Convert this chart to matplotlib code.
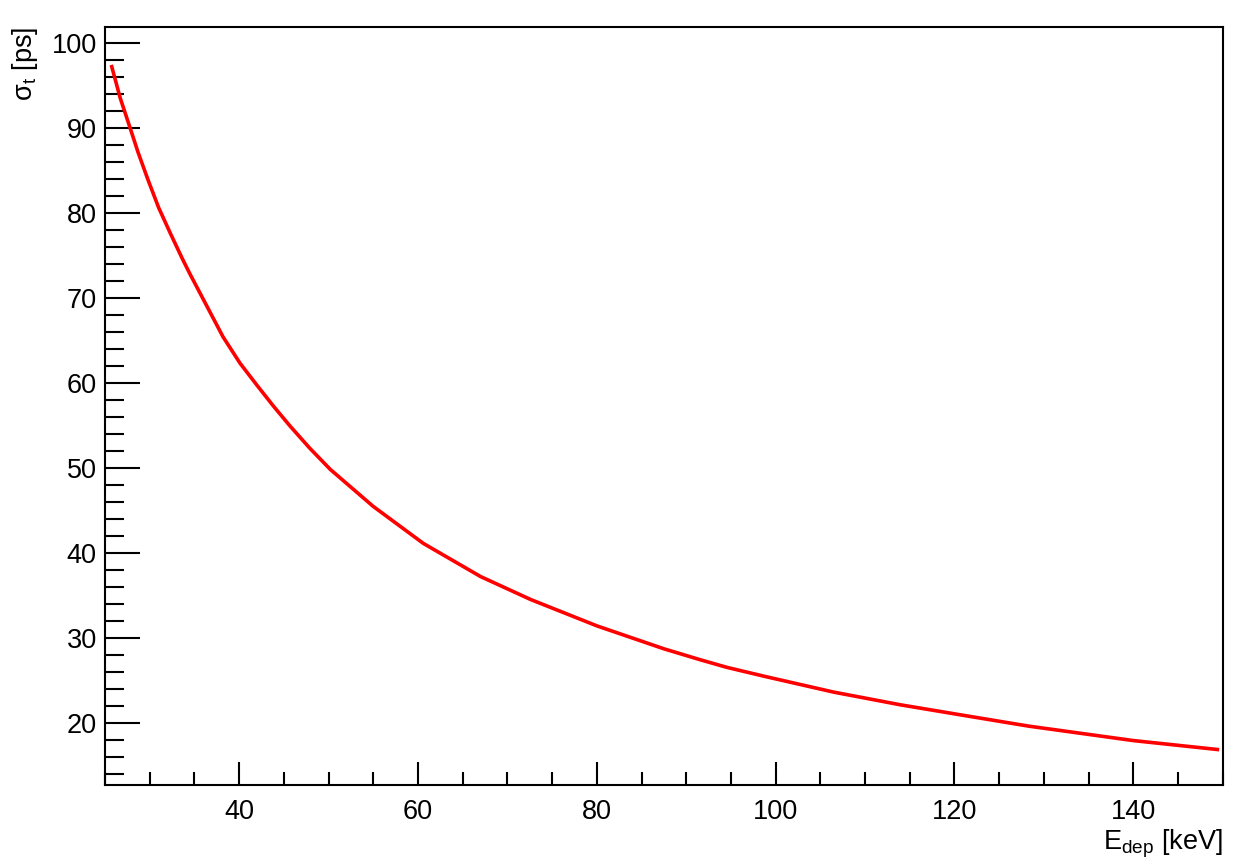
import matplotlib.pyplot as plt
from matplotlib.ticker import MultipleLocator

# values
e_dep = [25.75, 26.7, 27.8, 28.7, 29.8, 31.0, 32.3, 33.6, 34.5, 36.0, 38.2, 40.1,
         42.0, 43.8, 45.7, 47.9, 50.2, 55.0, 60.6, 67.0, 72.6, 80.0, 87.5, 91.6,
         94.6, 99.0, 106.5, 114.0, 121.4, 128.3, 140.0, 149.4]
sigma_t = [97.2, 93.5, 90.0, 87.1, 83.9, 80.6, 77.6, 74.7, 72.8, 69.8, 65.4, 62.3,
           59.7, 57.3, 54.9, 52.3, 49.8, 45.45, 41.1, 37.2, 34.5, 31.4, 28.7, 27.4,
           26.5, 25.4, 23.6, 22.1, 20.8, 19.6, 17.9, 16.85]

plt.rcParams['font.family'] = ['Liberation Sans', 'DejaVu Sans']
plt.rcParams['mathtext.fontset'] = 'custom'
plt.rcParams['mathtext.rm'] = 'Liberation Sans'
plt.rcParams['mathtext.it'] = 'Liberation Sans:italic'

fig = plt.figure(figsize=(12.52, 8.68), dpi=100)
ax = fig.add_axes([0.0839, 0.0956, 0.8927, 0.8736])

ax.plot(e_dep, sigma_t, color='red', lw=2.6, solid_joinstyle='round')

ax.set_xlim(25, 150)
ax.set_ylim(12.67, 101.9)
ax.xaxis.set_major_locator(MultipleLocator(20))
ax.xaxis.set_minor_locator(MultipleLocator(5))
ax.yaxis.set_major_locator(MultipleLocator(10))
ax.yaxis.set_minor_locator(MultipleLocator(2))

ax.tick_params(axis='both', which='both', direction='in', width=1.5,
               labelsize=19.5, top=False, right=False)
ax.tick_params(axis='x', which='major', length=16.6, pad=10)
ax.tick_params(axis='x', which='minor', length=9.4)
ax.tick_params(axis='y', which='major', length=25, pad=6)
ax.tick_params(axis='y', which='minor', length=13.7)
for s in ax.spines.values():
    s.set_linewidth(1.5)

ax.set_xlabel(r'E$_\mathrm{dep}$ [keV]', fontsize=19.5, loc='right', labelpad=2)
ax.set_ylabel(r'σ$_\mathrm{t}$ [ps]', fontsize=19.5, loc='top', labelpad=8)

fig.savefig('out.png', dpi=100)
